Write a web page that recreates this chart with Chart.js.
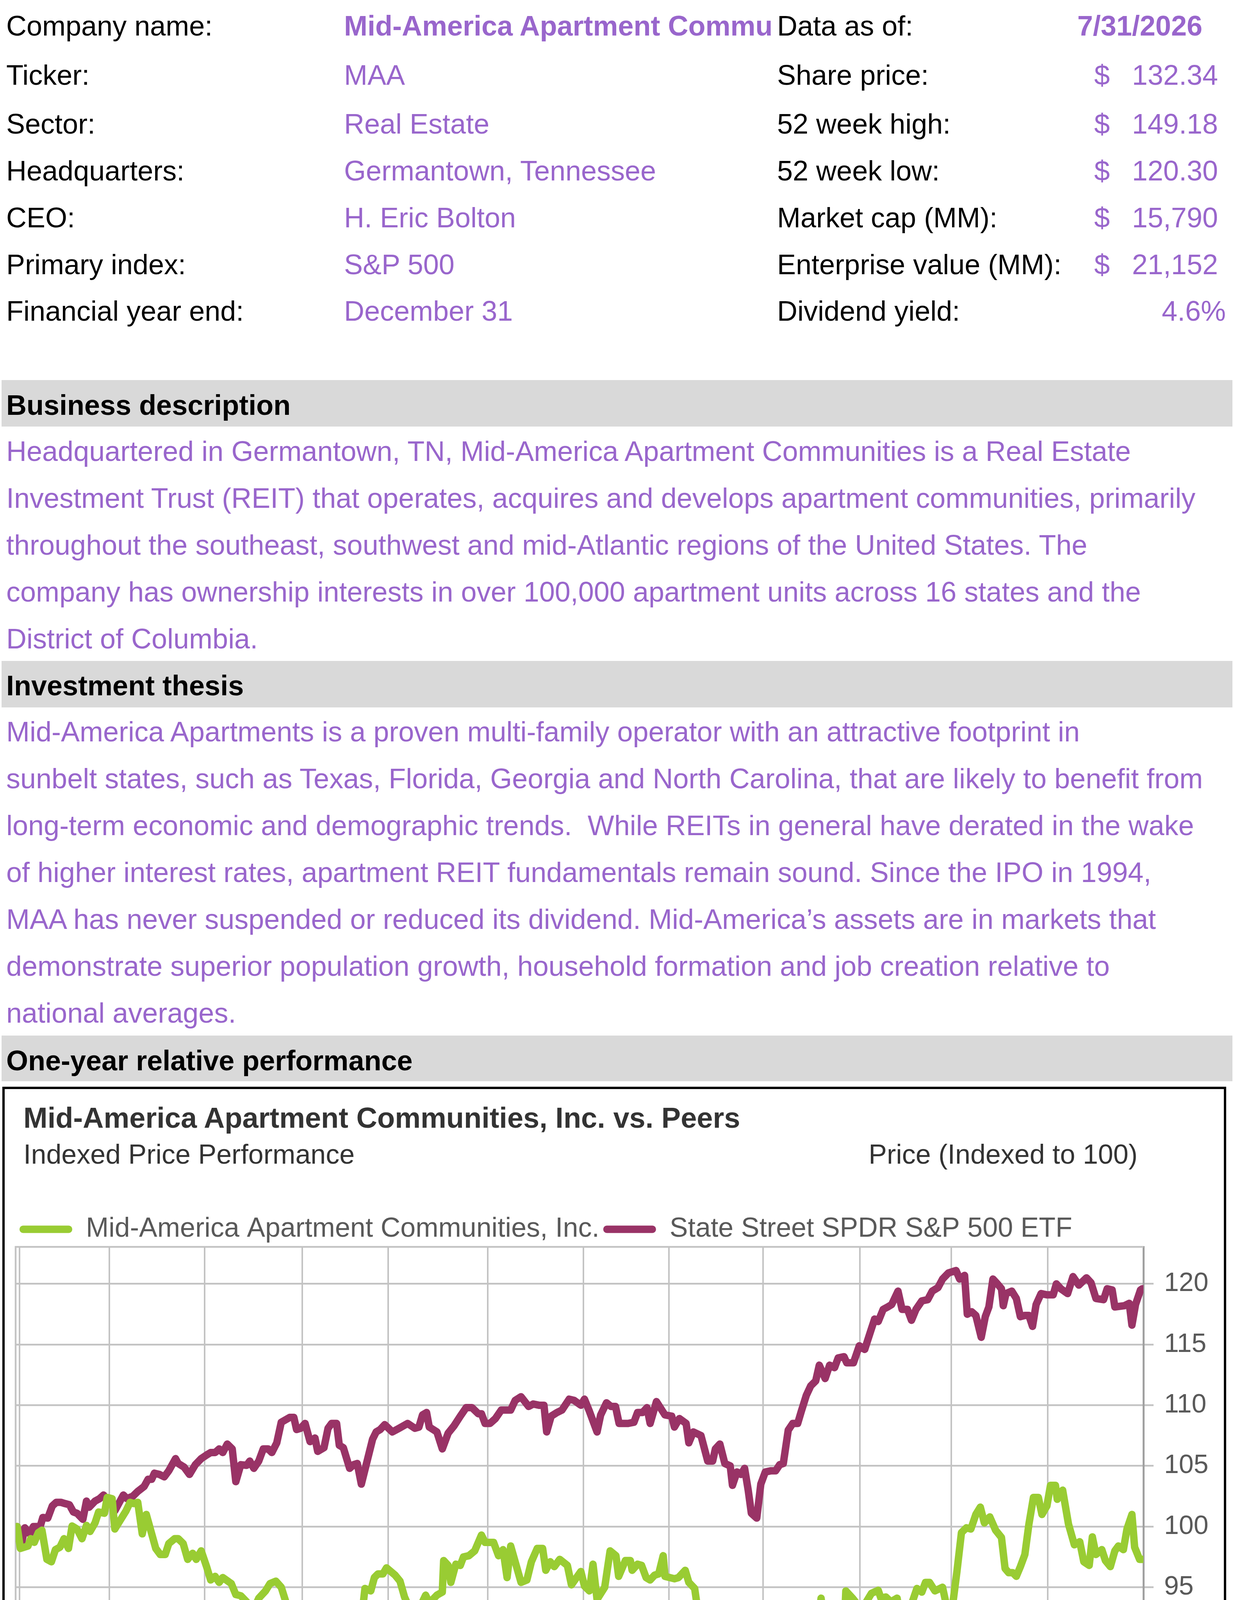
<!DOCTYPE html>
<html>
<head>
<meta charset="utf-8">
<script src="https://cdn.jsdelivr.net/npm/chart.js@4"></script>
<style>
  html, body { margin:0; padding:0; background:#fff; }
  body { position:relative; width:3160px; height:4695px; overflow:hidden;
         font-family:"Liberation Sans", Arial, sans-serif; }
  .t { position:absolute; font-size:72px; line-height:120px; white-space:nowrap; color:#000; }
  .p { color:#9966CC; }
  .b { font-weight:bold; }
  .band { position:absolute; left:4px; width:3152px; height:119px; background:#D9D9D9; }
  .para { position:absolute; left:16px; font-size:72px; line-height:120px; color:#9966CC; white-space:nowrap; }
  #box { position:absolute; left:6px; top:2782px; width:3122px; height:1872px; border:6px solid #000; }
  canvas { position:absolute; left:12px; top:3080px; }
</style>
</head>
<body>
<!-- top info table -->
<div class="t" style="left:16px;top:6px">Company name:</div>
<div class="t p b" style="left:881px;top:6px;width:1095px;overflow:hidden">Mid-America Apartment Communities, Inc.</div>
<div class="t" style="left:1990px;top:6px">Data as of:</div>
<div class="t p b" style="right:81px;top:6px;text-align:right">7/31/2026</div>

<div class="t" style="left:16px;top:132px">Ticker:</div>
<div class="t p" style="left:881px;top:132px">MAA</div>
<div class="t" style="left:1990px;top:132px">Share price:</div>
<div class="t p" style="left:2802px;top:132px">$</div>
<div class="t p" style="right:41px;top:132px">132.34</div>

<div class="t" style="left:16px;top:257px">Sector:</div>
<div class="t p" style="left:881px;top:257px">Real Estate</div>
<div class="t" style="left:1990px;top:257px">52 week high:</div>
<div class="t p" style="left:2802px;top:257px">$</div>
<div class="t p" style="right:41px;top:257px">149.18</div>

<div class="t" style="left:16px;top:377px">Headquarters:</div>
<div class="t p" style="left:881px;top:377px">Germantown, Tennessee</div>
<div class="t" style="left:1990px;top:377px">52 week low:</div>
<div class="t p" style="left:2802px;top:377px">$</div>
<div class="t p" style="right:41px;top:377px">120.30</div>

<div class="t" style="left:16px;top:497px">CEO:</div>
<div class="t p" style="left:881px;top:497px">H. Eric Bolton</div>
<div class="t" style="left:1990px;top:497px">Market cap (MM):</div>
<div class="t p" style="left:2802px;top:497px">$</div>
<div class="t p" style="right:41px;top:497px">15,790</div>

<div class="t" style="left:16px;top:617px">Primary index:</div>
<div class="t p" style="left:881px;top:617px">S&amp;P 500</div>
<div class="t" style="left:1990px;top:617px">Enterprise value (MM):</div>
<div class="t p" style="left:2802px;top:617px">$</div>
<div class="t p" style="right:41px;top:617px">21,152</div>

<div class="t" style="left:16px;top:736px">Financial year end:</div>
<div class="t p" style="left:881px;top:736px">December 31</div>
<div class="t" style="left:1990px;top:736px">Dividend yield:</div>
<div class="t p" style="right:21px;top:736px">4.6%</div>

<!-- Business description -->
<div class="band" style="top:973px"></div>
<div class="t b" style="left:16px;top:977px">Business description</div>
<div class="para" style="top:1095px">
Headquartered in Germantown, TN, Mid-America Apartment Communities is a Real Estate<br>
Investment Trust (REIT) that operates, acquires and develops apartment communities, primarily<br>
throughout the southeast, southwest and mid-Atlantic regions of the United States. The<br>
company has ownership interests in over 100,000 apartment units across 16 states and the<br>
District of Columbia.
</div>

<!-- Investment thesis -->
<div class="band" style="top:1692px"></div>
<div class="t b" style="left:16px;top:1695px">Investment thesis</div>
<div class="para" style="top:1813px">
Mid-America Apartments is a proven multi-family operator with an attractive footprint in<br>
sunbelt states, such as Texas, Florida, Georgia and North Carolina, that are likely to benefit from<br>
long-term economic and demographic trends.&nbsp; While REITs in general have derated in the wake<br>
of higher interest rates, apartment REIT fundamentals remain sound. Since the IPO in 1994,<br>
MAA has never suspended or reduced its dividend. Mid-America’s assets are in markets that<br>
demonstrate superior population growth, household formation and job creation relative to<br>
national averages.
</div>

<!-- One-year relative performance -->
<div class="band" style="top:2651px;height:117px"></div>
<div class="t b" style="left:16px;top:2655px">One-year relative performance</div>

<div id="box"></div>
<div class="t b" style="left:60px;top:2802px;font-size:74px;color:#333">Mid-America Apartment Communities, Inc. vs. Peers</div>
<div class="t" style="left:60px;top:2895px;font-size:70px;color:#333">Indexed Price Performance</div>
<div class="t" style="right:247px;top:2895px;font-size:70px;color:#333">Price (Indexed to 100)</div>

<canvas id="c" width="3118" height="1450"></canvas>

<div class="t" style="right:82px;top:4508px;font-size:70px;color:#595959">Source: FactSet Prices</div>

<script>
// ---------------- DATA ----------------
const seriesNames = ["Mid-America Apartment Communities, Inc.", "State Street SPDR S&P 500 ETF"];

// x = trading-day position (0 = 31 Jul 2025), y = price indexed to 100
const maaDays = [0,0.7,2.4,3.0,3.8,4.7,5.5,6.6,7.6,8.5,9.5,10.4,11.4,12.2,13.3,14.4,15.4,16.2,17.3,18.1,19.4,20.0,21.1,21.7,24.2,25.1,25.9,26.8,27.8,28.7,30.8,31.8,32.9,33.7,35.0,35.8,36.9,37.9,39.0,39.8,40.9,42.1,43.0,44.0,44.9,45.7,47.6,48.6,49.7,51.0,52.6,53.7,55.2,56.2,57.5,58.7,59.8,61.0,61.5,62.1,63.8,65.1,65.9,67.0,67.6,68.9,69.9,71.0,71.8,72.7,73.5,74.6,75.6,76.7,77.3,78.6,79.4,80.2,81.3,82.1,84.0,85.1,86.1,87.4,89.1,90.1,90.8,91.6,93.3,94.5,94.8,95.8,96.4,97.5,98.5,99.2,100.4,101.7,103.2,104.0,105.9,107.0,108.0,108.9,109.7,112.0,113.3,114.3,115.6,116.8,117.5,118.5,119.4,120.6,122.3,123.2,125.3,126.1,127.2,128.0,128.9,130.6,131.8,133.1,133.7,135.2,136.3,136.7,137.9,138.8,139.8,140.7,141.7,142.6,143.6,144.0,146.1,147.0,148.5,149.3,150.6,151.8,153.3,154.6,155.6,156.2,157.3,158.5,159.2,159.8,161.3,162.8,163.6,164.9,166.5,167.6,169.3,170.1,171.0,172.2,173.1,173.9,175.0,176.2,177.3,178.7,179.6,180.8,181.7,182.7,183.8,184.2,185.7,187.4,188.6,189.9,191.4,192.0,193.1,194.2,195.6,196.9,197.7,198.8,200.0,201.1,201.9,202.8,204.0,205.7,206.4,207.4,208.0,208.9,209.9,211.0,212.0,213.1,214.1,215.0,216.2,217.5,218.8,219.6,220.4,221.3,222.1,223.0,224.0,224.9,225.9,227.0,227.8,228.9,229.7,230.8,231.2,232.4,233.7,235.0,236.2,237.1,238.3,239.0,239.8,241.1,241.9,243.0,244.0,244.8,245.9,246.7,247.8,248.4,249.5,250.1];
const maaValues = [100.0,98.2,98.4,99.0,98.7,99.5,99.7,97.3,97.1,98.1,98.3,99.0,98.2,100.05,99.8,99.0,100.1,99.6,100.3,101.2,101.1,102.4,102.3,99.8,101.3,102.0,101.9,102.0,99.4,101.0,98.2,97.7,97.7,98.6,99.0,99.0,98.6,97.3,97.8,97.3,98.0,96.7,95.6,95.9,95.4,95.8,95.3,94.4,94.3,93.8,93.2,94.1,94.7,95.3,95.5,95.0,93.7,92.7,89.7,91.4,90.9,91.8,91.5,90.2,92.0,92.1,93.4,93.4,92.9,93.0,92.4,92.5,92.1,92.9,94.9,94.7,95.8,96.1,96.1,96.6,96.0,95.5,94.2,93.1,92.5,93.8,94.35,93.7,94.35,94.6,97.2,96.8,95.4,96.9,96.8,97.5,97.6,98.0,99.3,98.7,98.7,97.6,98.1,95.8,98.4,95.4,95.6,97.1,98.2,98.2,96.4,97.1,96.7,97.3,96.8,95.2,96.3,95.1,94.7,96.9,94.0,95.0,98.0,97.6,95.9,97.2,97.2,96.4,96.9,96.8,95.8,95.6,96.0,96.1,97.6,95.9,95.7,95.8,96.4,95.4,94.9,91.8,91.8,90.7,92.0,91.9,90.3,89.3,87.5,88.0,87.2,87.7,86.8,87.6,88.1,89.8,89.8,89.2,90.5,90.2,90.9,90.5,90.8,90.2,89.6,94.1,91.4,90.6,91.4,91.1,91.2,94.7,94.1,93.3,93.7,94.5,94.75,94.1,94.2,93.8,94.1,91.4,93.3,93.6,94.9,94.6,95.4,95.4,94.7,95.0,93.8,93.1,93.7,96.3,99.5,99.9,99.8,101.0,101.6,100.3,100.8,99.7,99.1,96.55,96.2,96.2,95.9,96.7,97.7,100.2,102.4,102.4,101.0,101.7,103.4,103.4,102.25,103.0,100.2,98.5,98.75,97.1,96.8,99.15,97.7,98.1,97.2,96.7,98.0,98.4,98.1,99.8,101.0,98.3,97.3,97.3];

const spyDays = [0,0.9,1.7,2.8,3.6,5.1,5.7,6.8,7.8,8.7,9.7,10.6,11.6,12.5,13.3,14.6,15.4,16.0,17.3,18.3,19.2,19.8,20.9,21.7,23.6,24.4,25.7,26.8,28.2,29.1,29.9,30.5,31.6,32.7,33.7,35.2,35.8,37.1,38.3,39.6,40.9,42.1,43.0,44.0,44.9,45.7,46.7,47.8,48.6,49.7,51.0,51.7,52.6,53.7,54.7,55.8,56.6,57.7,58.7,60.6,61.5,62.1,63.0,64.0,65.1,66.2,66.8,68.2,69.1,69.9,71.0,71.6,72.5,73.9,74.8,75.6,76.5,79.0,79.8,80.7,81.7,83.4,84.9,86.8,88.4,89.3,90.1,91.0,91.6,93.3,94.5,95.8,97.1,98.5,99.8,101.1,102.5,103.2,104.0,105.1,106.3,107.6,109.7,110.7,112.0,113.7,114.7,116.0,117.1,117.7,118.7,120.0,121.1,122.7,123.8,125.3,126.1,127.2,128.9,129.7,131.0,132.0,133.0,133.8,135.8,137.1,137.9,139.0,140.0,140.7,142.1,144.0,145.5,146.1,147.2,148.7,149.3,150.3,152.0,153.5,154.6,155.2,156.2,157.3,158.5,159.0,160.0,160.9,161.7,162.5,163.2,164.4,165.3,166.3,167.6,168.6,169.5,170.3,171.4,172.4,173.5,174.3,175.4,176.4,177.5,178.3,179.6,180.6,181.7,182.5,183.8,184.4,185.9,187.2,188.4,189.8,190.6,191.4,192.5,193.5,194.4,195.8,196.7,197.9,198.8,199.8,201.1,202.4,203.4,204.7,205.7,207.0,208.7,209.5,210.6,211.2,212.2,213.1,214.3,215.2,216.0,216.9,217.9,218.8,219.2,219.8,221.1,222.1,223.0,224.0,224.9,225.7,226.5,227.6,228.9,230.3,231.0,232.0,233.5,234.7,236.0,237.7,238.7,239.8,241.5,242.3,243.4,244.0,246.1,247.2,247.8,248.6,249.7,250.1];
const spyValues = [100.0,98.5,99.9,99.4,100.0,100.0,100.75,100.7,101.7,102.0,102.0,101.9,101.8,101.2,101.1,100.6,102.1,101.6,102.1,102.3,102.6,102.3,102.1,101.3,102.6,102.3,102.5,102.9,103.3,103.9,103.9,104.4,104.3,104.1,104.6,105.6,105.2,104.9,104.3,105.1,105.6,105.9,106.1,106.1,106.4,106.1,106.8,106.4,103.7,105.1,105.05,105.4,104.8,105.4,106.4,106.4,106.1,106.9,108.6,109.0,109.0,108.0,108.1,108.5,107.0,107.3,106.2,106.5,108.1,108.5,108.5,106.7,106.5,104.8,105.1,105.2,103.5,107.2,107.8,108.0,108.4,107.8,108.1,108.5,108.1,108.2,109.2,109.4,108.2,107.8,106.4,107.7,108.3,109.1,109.8,109.8,109.3,109.3,108.5,108.5,108.9,109.6,109.6,110.4,110.7,109.9,110.1,110.0,110.0,107.8,109.1,109.4,109.6,110.5,110.4,110.0,110.5,109.5,107.8,109.2,110.2,109.9,109.9,108.5,108.5,108.6,109.4,109.4,109.8,108.5,110.3,109.2,109.1,108.2,108.9,108.5,106.9,107.8,107.5,105.4,105.4,106.4,106.8,105.2,105.0,103.4,104.5,104.3,104.8,103.0,101.1,100.7,103.5,104.5,104.6,104.6,105.1,105.2,107.95,108.5,108.5,109.5,110.8,111.6,112.0,113.3,112.2,113.3,113.1,113.9,114.0,113.5,113.5,114.9,114.6,116.2,117.1,116.9,117.9,118.1,118.3,119.4,117.9,117.9,117.0,117.9,118.6,118.7,119.4,119.7,120.4,120.9,121.1,120.4,120.7,117.5,117.7,117.4,115.6,117.3,118.1,120.4,120.0,119.6,118.2,119.2,119.4,118.8,117.3,117.4,117.4,116.5,118.3,119.2,119.1,119.1,120.0,119.6,119.2,120.6,119.9,120.5,120.1,118.8,118.7,119.6,119.5,118.1,118.2,118.4,116.6,118.3,119.5,119.6];

// month boundaries (same x units) and month labels
const monthBoundaries = [0.5,20.45,41.7,63.4,82.5,104.6,125.9,144.9,165.8,187.3,207.6,229.1,250.35];
const monthLabels = ["Aug","Sep","Oct","Nov","Dec","Jan","Feb","Mar","Apr","May","Jun","Jul"];
const yTickValues = [85,90,95,100,105,110,115,120];

// ---------------- CHART ----------------
const FONT = "'Liberation Sans', Arial, sans-serif";
Chart.defaults.font.family = FONT;

const toPoints = (xs, ys) => xs.map((x, i) => ({x: x, y: ys[i]}));
const boundarySet = new Set(monthBoundaries);
const labelMap = new Map();
monthLabels.forEach((m, i) => labelMap.set((monthBoundaries[i] + monthBoundaries[i + 1]) / 2, m));
const xTicks = monthBoundaries.concat(Array.from(labelMap.keys())).sort((a, b) => a - b);

const GRID = '#C3C3C3';
const plotFrame = {
  id: 'plotFrame',
  beforeDatasetsDraw(chart) {
    const a = chart.chartArea, c = chart.ctx;
    c.save();
    c.strokeStyle = GRID; c.lineWidth = 4.5;
    c.beginPath();
    c.moveTo(a.left, a.bottom); c.lineTo(a.left, a.top); c.lineTo(a.right, a.top);
    c.stroke();
    c.restore();
  }
};

new Chart(document.getElementById('c'), {
  type: 'line',
  data: {
    datasets: [
      { label: seriesNames[0], data: toPoints(maaDays, maaValues), borderColor: '#99CC33', backgroundColor: '#99CC33' },
      { label: seriesNames[1], data: toPoints(spyDays, spyValues), borderColor: '#993366', backgroundColor: '#993366' }
    ]
  },
  options: {
    responsive: false,
    animation: false,
    devicePixelRatio: 1,
    layout: { padding: { left: 28, right: 0, top: 22, bottom: 0 } },
    elements: {
      line: { borderWidth: 19, tension: 0, borderJoinStyle: 'round', borderCapStyle: 'round', fill: false },
      point: { radius: 0, hoverRadius: 0 }
    },
    plugins: {
      tooltip: { enabled: false },
      title: { display: false },
      legend: {
        display: true, position: 'top', align: 'start',
        labels: {
          font: { size: 70, family: FONT }, color: '#595959',
          boxWidth: 135, boxHeight: 19, padding: 10,
          useBorderRadius: true, borderRadius: 9,
          generateLabels: (chart) => chart.data.datasets.map((ds, i) => ({
            text: ds.label, fillStyle: ds.borderColor, strokeStyle: ds.borderColor,
            lineWidth: 0, hidden: false, datasetIndex: i, borderRadius: 9, fontColor: '#595959'
          }))
        }
      }
    },
    scales: {
      x: {
        type: 'linear', position: 'bottom', min: -0.35, max: 250.35,
        afterBuildTicks: (s) => { s.ticks = xTicks.map(v => ({value: v})); },
        afterFit: (s) => { s.height = 128; },
        ticks: {
          autoSkip: false, maxRotation: 0, minRotation: 0, padding: 7,
          font: { size: 70 }, color: '#595959',
          callback: (v) => labelMap.has(v) ? labelMap.get(v) : ''
        },
        grid: {
          color: (ctx) => (ctx.tick && boundarySet.has(ctx.tick.value)) ? GRID : 'rgba(0,0,0,0)',
          tickColor: (ctx) => (ctx.tick && boundarySet.has(ctx.tick.value)) ? GRID : 'rgba(0,0,0,0)',
          lineWidth: 4, tickLength: 24, drawTicks: true
        },
        border: { display: true, color: '#8C8C8C', width: 4 }
      },
      y: {
        type: 'linear', position: 'right', min: 84.1, max: 123.05,
        afterBuildTicks: (s) => { s.ticks = yTickValues.map(v => ({value: v})); },
        afterFit: (s) => { s.width = 202; },
        ticks: { padding: 27, font: { size: 68 }, color: '#595959' },
        grid: { color: GRID, lineWidth: 4.5, tickLength: 26, drawTicks: true, tickColor: GRID },
        border: { display: true, color: '#A0A0A0', width: 5 }
      }
    }
  },
  plugins: [plotFrame]
});
</script>
</body>
</html>
